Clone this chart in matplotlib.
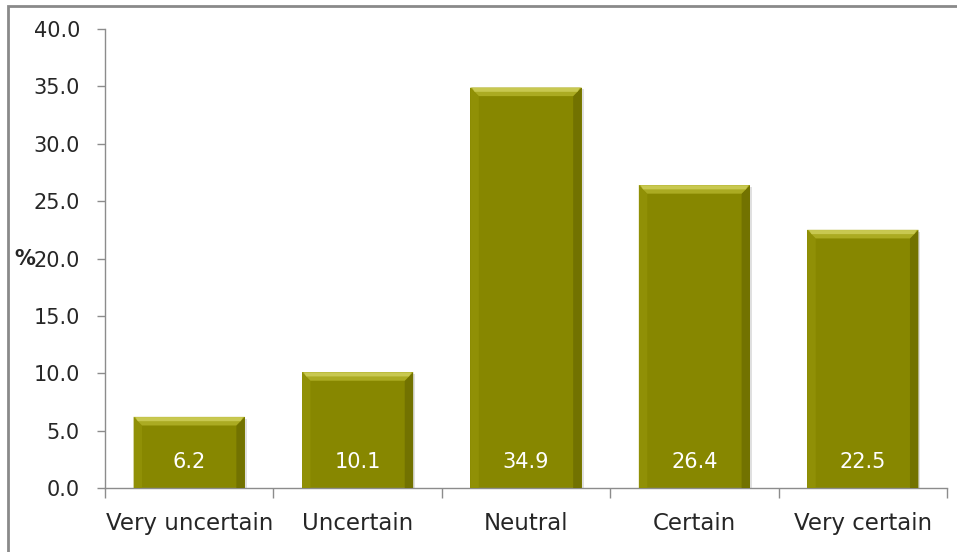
import matplotlib.pyplot as plt
from matplotlib.patches import Polygon, Rectangle

categories = ['Very uncertain', 'Uncertain', 'Neutral', 'Certain', 'Very certain']
values = [6.2, 10.1, 34.9, 26.4, 22.5]

BAR = '#878700'
GRID = '#8c8c8c'
TXT = '#262626'

fig = plt.figure(figsize=(9.57, 5.52), dpi=100)
ax = fig.add_axes([0.1097, 0.1159, 0.8799, 0.8316])

x = range(len(categories))
bars = ax.bar(x, values, width=0.66, color=BAR, zorder=2)

# bevel effect: light top edge, dark right edge, soft shadow
bx, by = 0.05, 0.75
for b in bars:
    x0, w, h = b.get_x(), b.get_width(), b.get_height()
    x1 = x0 + w
    ax.add_patch(Rectangle((x0 + 0.012, 0), w, h - 0.15, color='#000000',
                           alpha=0.12, zorder=1, lw=0))
    ax.add_patch(Polygon([(x1, 0), (x1, h), (x1 - bx, h - by), (x1 - bx, 0)],
                         closed=True, color='#727200', lw=0, zorder=3))
    ax.add_patch(Polygon([(x0, 0), (x0, h), (x0 + bx, h - by), (x0 + bx, 0)],
                         closed=True, color='#909006', lw=0, zorder=3))
    ax.add_patch(Polygon([(x0, h), (x1, h), (x1 - bx, h - by), (x0 + bx, h - by)],
                         closed=True, color='#abab22', lw=0, zorder=4))
    ax.add_patch(Polygon([(x0 + 0.01, h - 0.02), (x1 - 0.01, h - 0.02),
                          (x1 - bx * 0.5, h - by * 0.5), (x0 + bx * 0.5, h - by * 0.5)],
                         closed=True, color='#c8c850', lw=0, zorder=5))

for i, v in enumerate(values):
    ax.annotate(f'{v:.1f}', (i, 0), xytext=(0, 19), textcoords='offset points',
                ha='center', va='center', color='white', fontsize=15, zorder=6)

ax.set_xlim(-0.5, len(categories) - 0.5)
ax.set_ylim(0, 40)
ax.set_yticks([i * 5 for i in range(9)])
ax.set_yticklabels([f'{i * 5:.1f}' for i in range(9)])

ax.set_xticks([i - 0.5 for i in range(len(categories) + 1)])
ax.set_xticklabels([])
ax.set_xticks(list(x), minor=True)
ax.set_xticklabels(categories, minor=True)

ax.tick_params(axis='x', which='major', length=7, color=GRID, width=1)
ax.tick_params(axis='x', which='minor', length=0, pad=17, labelsize=16.5, labelcolor=TXT)
ax.tick_params(axis='y', length=6, color=GRID, width=1, pad=12, labelsize=15, labelcolor=TXT)

for s in ['top', 'right']:
    ax.spines[s].set_visible(False)
for s in ['left', 'bottom']:
    ax.spines[s].set_color(GRID)
    ax.spines[s].set_linewidth(1)

ax.set_ylabel('%', rotation=0, fontweight='bold', fontsize=15, color=TXT,
              ha='center', va='center')
ax.yaxis.set_label_coords(-0.095, 0.5)

# chart area border
fig.patches.append(Rectangle((8 / 957, -0.1), 1.2, 1.1 - 6 / 552,
                             transform=fig.transFigure, fill=False,
                             edgecolor='#8a8a8a', lw=2))

fig.savefig('out.png', dpi=100)
